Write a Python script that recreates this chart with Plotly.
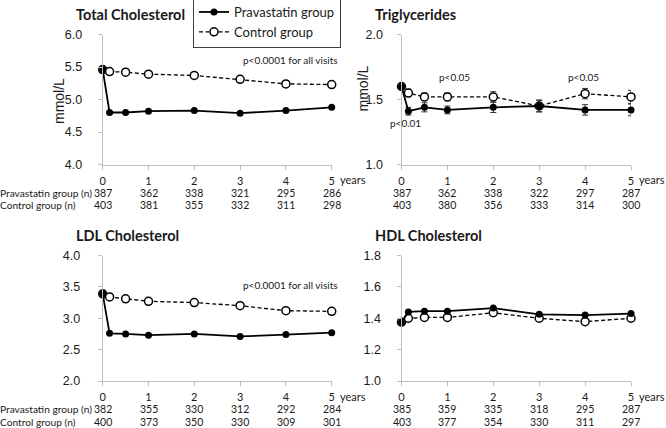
import plotly.graph_objects as go

W, H = 666, 428

# ---------------- data ----------------
years = [0, 0.15, 0.5, 1, 2, 3, 4, 5]
tick_years = [0, 1, 2, 3, 4, 5]

tc_prava = [5.46, 4.80, 4.80, 4.82, 4.83, 4.79, 4.83, 4.88]
tc_ctrl = [5.46, 5.43, 5.42, 5.39, 5.37, 5.31, 5.24, 5.23]

tg_prava = [1.60, 1.41, 1.44, 1.42, 1.44, 1.45, 1.42, 1.42]
tg_ctrl = [1.60, 1.55, 1.52, 1.52, 1.52, 1.45, 1.545, 1.52]
tg_prava_err = [0.02, 0.03, 0.035, 0.03, 0.04, 0.045, 0.04, 0.045]
tg_ctrl_err = [0.02, 0.03, 0.03, 0.03, 0.04, 0.045, 0.04, 0.05]

ldl_prava = [3.39, 2.76, 2.75, 2.73, 2.75, 2.71, 2.74, 2.77]
ldl_ctrl = [3.39, 3.34, 3.31, 3.27, 3.25, 3.20, 3.12, 3.11]

hdl_prava = [1.375, 1.44, 1.445, 1.445, 1.465, 1.425, 1.42, 1.43]
hdl_ctrl = [1.375, 1.40, 1.405, 1.405, 1.435, 1.40, 1.378, 1.40]

tc_n_prava = [387, 362, 338, 321, 295, 286]
tc_n_ctrl = [403, 381, 355, 332, 311, 298]
tg_n_prava = [387, 362, 338, 322, 297, 287]
tg_n_ctrl = [403, 380, 356, 333, 314, 300]
ldl_n_prava = [382, 355, 330, 312, 292, 284]
ldl_n_ctrl = [400, 373, 350, 330, 309, 301]
hdl_n_prava = [385, 359, 335, 318, 295, 287]
hdl_n_ctrl = [403, 377, 354, 330, 311, 297]

titles = ["Total Cholesterol", "Triglycerides", "LDL Cholesterol", "HDL Cholesterol"]
series_names = ["Pravastatin group", "Control group"]
row_labels = ["Pravastatin group (n)", "Control group (n)"]
y_ranges = [[4.0, 6.0], [1.0, 2.0], [2.0, 4.0], [1.0, 1.8]]
y_dticks = [0.5, 0.5, 0.5, 0.2]

# ---------------- layout geometry (pixels) ----------------
panels = [
    dict(x0=102.7, x1=331.7, y0=34.5, y1=164.5, prava=tc_prava, ctrl=tc_ctrl,
         pe=None, ce=None, np_=tc_n_prava, nc=tc_n_ctrl, rowlab=True, so=13),
    dict(x0=401.5, x1=631.0, y0=34.5, y1=164.5, prava=tg_prava, ctrl=tg_ctrl,
         pe=tg_prava_err, ce=tg_ctrl_err, np_=tg_n_prava, nc=tg_n_ctrl, rowlab=False, so=11),
    dict(x0=102.7, x1=331.7, y0=255.5, y1=381.0, prava=ldl_prava, ctrl=ldl_ctrl,
         pe=None, ce=None, np_=ldl_n_prava, nc=ldl_n_ctrl, rowlab=True, so=15),
    dict(x0=401.5, x1=631.0, y0=255.5, y1=381.0, prava=hdl_prava, ctrl=hdl_ctrl,
         pe=None, ce=None, np_=hdl_n_prava, nc=hdl_n_ctrl, rowlab=False, so=13),
]

AX = "#bfbfbf"
TXT = "#1a1a1a"
SANS = "Liberation Sans, Arial, sans-serif"
CAL = "Lato, Carlito, Calibri, sans-serif"

fig = go.Figure()
annotations = []
layout_axes = {}


def px(v):
    return v / W


def py(v):
    return 1 - v / H


for i, p in enumerate(panels):
    k = "" if i == 0 else str(i + 1)
    xa, ya = "x" + k, "y" + k
    fig.add_trace(go.Scatter(
        x=years, y=p["ctrl"], xaxis=xa, yaxis=ya, name=series_names[1],
        mode="lines+markers", showlegend=(i == 0), legendrank=2,
        line=dict(color="black", width=1.3, dash="4px,2.5px"),
        marker=dict(symbol="circle", size=8, color="white", line=dict(color="black", width=1.5)),
        error_y=(dict(type="data", array=p["ce"], color="#333333", thickness=1, width=3)
                 if p["ce"] else None),
        cliponaxis=False,
    ))
    fig.add_trace(go.Scatter(
        x=years, y=p["prava"], xaxis=xa, yaxis=ya, name=series_names[0],
        mode="lines+markers", showlegend=(i == 0), legendrank=1,
        line=dict(color="black", width=1.8),
        marker=dict(symbol="circle", size=7, color="black"),
        error_y=(dict(type="data", array=p["pe"], color="#333333", thickness=1, width=3)
                 if p["pe"] else None),
        cliponaxis=False,
    ))
    layout_axes["xaxis" + k] = dict(
        domain=[px(p["x0"]), px(p["x1"])], anchor=ya, range=[0, 5],
        tickmode="array", tickvals=tick_years, ticktext=[str(t) for t in tick_years],
        showline=True, linecolor=AX, linewidth=1, ticks="outside", ticklen=4,
        tickcolor=AX, showgrid=False, zeroline=False, automargin=False,
        tickfont=dict(family=CAL, size=11, color=TXT), ticklabelstandoff=2,
    )
    layout_axes["yaxis" + k] = dict(
        domain=[py(p["y1"]), py(p["y0"])], anchor=xa, range=y_ranges[i],
        dtick=y_dticks[i], tick0=y_ranges[i][0], tickformat=".1f",
        showline=True, linecolor=AX, linewidth=1, ticks="outside", ticklen=4,
        tickcolor=AX, showgrid=False, zeroline=False, automargin=False,
        tickfont=dict(family=SANS, size=12.5, color=TXT), ticklabelstandoff=p["so"],
    )
    annotations.append(dict(
        text="<b>" + titles[i] + "</b>", xref="paper", yref="paper",
        x=px(p["x0"] - 29), y=py(p["y0"] - 20), xanchor="left", yanchor="middle",
        showarrow=False, font=dict(family=CAL, size=14.5, color=TXT)))
    annotations.append(dict(
        text="years", xref=xa, yref="paper", x=5, y=py(p["y1"] + 15.5),
        xanchor="left", yanchor="middle", xshift=6, showarrow=False,
        font=dict(family=CAL, size=11, color=TXT)))
    for t, n1, n2 in zip(tick_years, p["np_"], p["nc"]):
        annotations.append(dict(text=str(n1), xref=xa, yref="paper", x=t,
                                y=py(p["y1"] + 28), xanchor="center", yanchor="middle",
                                showarrow=False, font=dict(family=CAL, size=10.5, color=TXT)))
        annotations.append(dict(text=str(n2), xref=xa, yref="paper", x=t,
                                y=py(p["y1"] + 40.5), xanchor="center", yanchor="middle",
                                showarrow=False, font=dict(family=CAL, size=10.5, color=TXT)))
    if p["rowlab"]:
        for j, lab in enumerate(row_labels):
            annotations.append(dict(text=lab, xref="paper", yref="paper", x=0, xshift=-2,
                                    y=py(p["y1"] + 28 + 12.5 * j), xanchor="left",
                                    yanchor="middle", showarrow=False,
                                    font=dict(family=CAL, size=10.2, color=TXT)))

annotations.append(dict(text="mmol/L", xref="paper", yref="paper", x=px(59), y=py(101),
                        textangle=-90, showarrow=False, xanchor="center", yanchor="middle",
                        font=dict(family=SANS, size=14, color=TXT)))
annotations.append(dict(text="mmol/L", xref="paper", yref="paper", x=px(362.5), y=py(89),
                        textangle=-90, showarrow=False, xanchor="center", yanchor="middle",
                        font=dict(family=SANS, size=14, color=TXT)))

# p-value notes: (text, x ref, y ref, x, y, anchor)
pnotes = [
    ("p<0.0001 for all visits", "paper", "y", px(340), 5.61, "right"),
    ("p<0.0001 for all visits", "paper", "y3", px(340), 3.53, "right"),
    ("p<0.01", "x2", "y2", 0.08, 1.32, "center"),
    ("p<0.05", "x2", "y2", 1.15, 1.67, "center"),
    ("p<0.05", "x2", "y2", 3.96, 1.67, "center"),
]
for txt, xr, yr, xv, yv, anc in pnotes:
    annotations.append(dict(text=txt, xref=xr, yref=yr, x=xv, y=yv, xanchor=anc,
                            yanchor="middle", showarrow=False,
                            font=dict(family=CAL, size=10, color=TXT)))

fig.update_layout(
    width=W, height=H, template="none",
    margin=dict(l=0, r=0, t=0, b=0, autoexpand=False),
    paper_bgcolor="white", plot_bgcolor="white",
    showlegend=True,
    legend=dict(x=px(193), y=1 + 4 / H, xanchor="left", yanchor="top",
                bordercolor="#404040", borderwidth=1, bgcolor="white",
                font=dict(family=CAL, size=13, color=TXT),
                tracegroupgap=0, itemwidth=30),
    annotations=annotations,
    **layout_axes,
)

fig.write_html("out.html", config={"displayModeBar": False},
               post_script="document.body.style.margin='0';document.body.style.overflow='hidden';")
